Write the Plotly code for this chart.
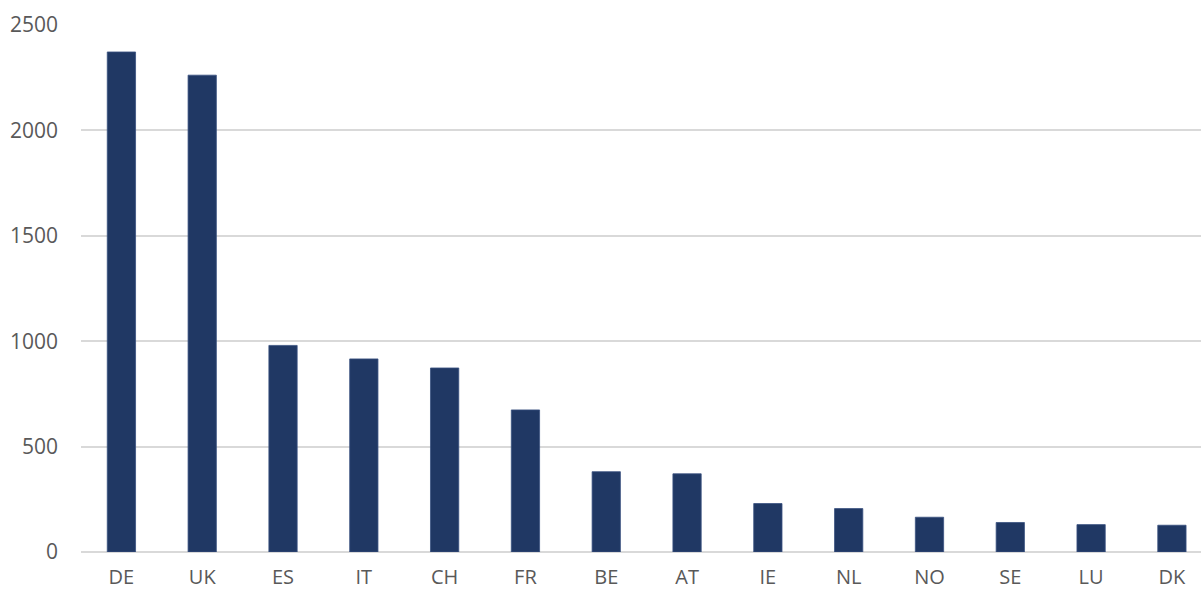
import plotly.graph_objects as go

countries = ["DE", "UK", "ES", "IT", "CH", "FR", "BE", "AT", "IE", "NL", "NO", "SE", "LU", "DK"]
values = [2372, 2262, 980, 916, 873, 674, 381, 371, 230, 206, 165, 140, 130, 127]
y_ticks = [0, 500, 1000, 1500, 2000, 2500]

fig = go.Figure(
    go.Bar(
        x=countries,
        y=values,
        width=0.35,
        marker=dict(color="#203864", line=dict(color="#3a5280", width=0.8)),
    )
)

fig.update_layout(
    width=1201,
    height=592,
    margin=dict(l=81, r=0, t=25, b=40),
    paper_bgcolor="white",
    plot_bgcolor="white",
    showlegend=False,
    font=dict(family="Open Sans", size=21, color="#595959"),
)

fig.update_xaxes(
    type="category",
    range=[-0.5, 13.36],
    automargin=False,
    showgrid=False,
    showline=False,
    ticks="",
    ticklabelstandoff=11,
    tickfont=dict(size=20, color="#595959"),
)

fig.update_yaxes(
    range=[0, 2500],
    tickvals=y_ticks,
    automargin=False,
    showgrid=True,
    gridcolor="#d9d9d9",
    gridwidth=1.8,
    zeroline=True,
    zerolinecolor="#d9d9d9",
    zerolinewidth=2,
    showline=False,
    ticks="",
    ticklabelstandoff=22,
    tickfont=dict(size=21, color="#595959"),
)

fig.write_html("out.html")
